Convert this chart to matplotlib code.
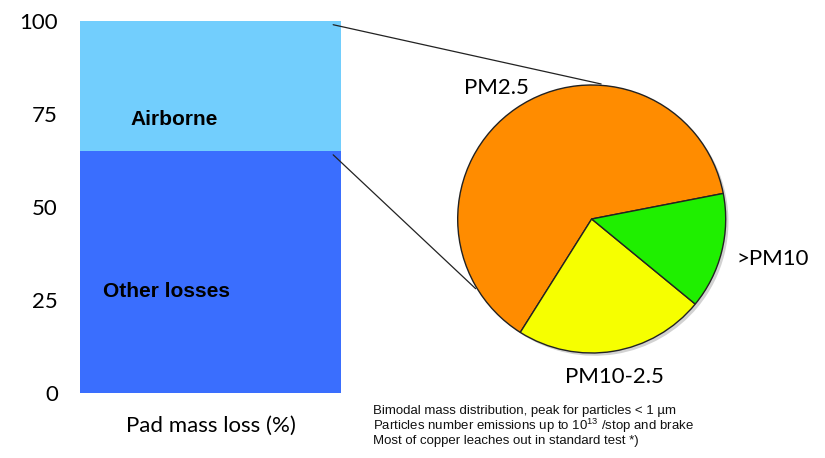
import matplotlib
matplotlib.use("Agg")
import matplotlib.pyplot as plt
import matplotlib.patheffects as pe
from matplotlib.patches import ConnectionPatch
import numpy as np

# Pad mass loss split (%)
bar_categories = ["Other losses", "Airborne"]
bar_values = [65, 35]
bar_colors = ["#3A6EFE", "#72CEFD"]

# Size split of the airborne fraction (%)
pie_labels = ["PM2.5", "PM10-2.5", ">PM10"]
pie_values = [63, 23, 14]
pie_colors = ["#FF8C00", "#F6FF00", "#1FEF00"]

y_ticks = [0, 25, 50, 75, 100]
notes = [
    "Bimodal mass distribution, peak for particles < 1 µm",
    "Particles number emissions up to 10$^{13}$ /stop and brake",
    "Most of copper leaches out in standard test *)",
]

plt.rcParams["mathtext.fontset"] = "custom"
plt.rcParams["mathtext.rm"] = "Liberation Sans"

W, H = 825, 458
fig = plt.figure(figsize=(W / 100, H / 100), dpi=100)
fig.patch.set_facecolor("white")

def px_axes(x0, y_top, x1, y_bot):
    return fig.add_axes([x0 / W, 1 - y_bot / H, (x1 - x0) / W, (y_bot - y_top) / H])

# Stacked bar
ax = px_axes(80, 21, 341, 392.7)
# soft drop shadow behind the whole column
base = ax.bar(0, sum(bar_values), width=1.0, color="white", edgecolor="none")[0]
base.set_path_effects([pe.SimplePatchShadow(offset=(2.5, -2.5), shadow_rgbFace="0.5", alpha=0.5),
                       pe.Normal()])
bottom = 0
for val, col in zip(bar_values, bar_colors):
    ax.bar(0, val, bottom=bottom, width=1.0, color=col, edgecolor="none")
    bottom += val
ax.set_xlim(-0.5, 0.5)
ax.set_ylim(0, 100)
ax.set_yticks(y_ticks)
ax.set_yticklabels([str(t) for t in y_ticks], fontsize=16, family="Lato")
ax.tick_params(axis="y", length=0, pad=16)
ax.set_xticks([])
for s in ax.spines.values():
    s.set_visible(False)
ax.set_facecolor("none")
ax.text(0.5, -0.09, "Pad mass loss (%)", transform=ax.transAxes, ha="center",
        va="center", fontsize=16, family="Lato")

ax.text(-0.14, bar_values[0] + 8.6, bar_categories[1], ha="center", va="center",
        fontsize=15, fontweight="bold", family="Liberation Sans")
ax.text(-0.17, 27.1, bar_categories[0], ha="center", va="center",
        fontsize=15, fontweight="bold", family="Liberation Sans")

# Pie of the airborne fraction
R = 134
cx, cy = 591.7, 219
pax = px_axes(cx - R, cy - R, cx + R, cy + R)
wedges, _ = pax.pie(pie_values, colors=pie_colors, startangle=11, counterclock=True,
                    radius=1.0,
                    wedgeprops=dict(edgecolor="#222222", linewidth=1.0))
for w in wedges:
    w.set_path_effects([pe.SimplePatchShadow(offset=(2, -2), shadow_rgbFace="0.5", alpha=0.35),
                        pe.Normal()])
pax.set_xlim(-1, 1)
pax.set_ylim(-1, 1)
pax.set_aspect("equal")
pax.axis("off")

pax.text(-0.71, 0.98, pie_labels[0], ha="center", va="center", fontsize=16, family="Lato")
pax.text(1.35, -0.30, pie_labels[2], ha="center", va="center", fontsize=16, family="Lato")
pax.text(0.17, -1.18, pie_labels[1], ha="center", va="center", fontsize=16, family="Lato")

# Connectors from the airborne segment to the pie
for yb, ang in [(100, 86), (bar_values[0], 211)]:
    a = np.deg2rad(ang)
    con = ConnectionPatch(xyA=(0.47, yb - 1), coordsA=ax.transData,
                          xyB=(np.cos(a) * 1.01, np.sin(a) * 1.01), coordsB=pax.transData,
                          color="#222222", linewidth=0.9)
    fig.add_artist(con)

fig.text(373 / W, 1 - 405 / H, "\n".join(notes), ha="left", va="top",
         fontsize=9.5, family="Liberation Sans", color="#111111", linespacing=1.0)

fig.savefig("out.png", dpi=100, facecolor="white")
